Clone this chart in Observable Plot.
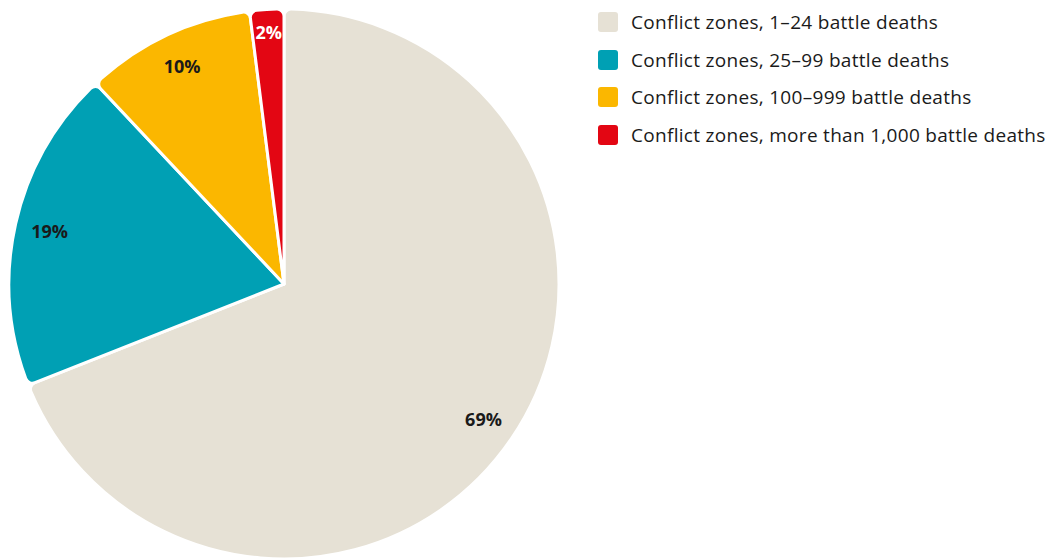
<!DOCTYPE html>
<html>
<head>
<meta charset="utf-8">
<script src="https://cdn.jsdelivr.net/npm/d3@7"></script>
<script src="https://cdn.jsdelivr.net/npm/@observablehq/plot@0.6"></script>
<style>
  html, body { margin: 0; padding: 0; background: #fff; }
  #wrap { position: relative; width: 1050px; height: 559px; font-family: "Open Sans", Lato, sans-serif; }
  #chart { position: absolute; left: 0; top: 0; }
  #legend { position: absolute; left: 598px; top: 12px; }
  .row { display: flex; align-items: center; height: 20px; margin-bottom: 17.7px; }
  .sw { width: 20px; height: 20px; border-radius: 3px; margin-right: 13px; flex: none; }
  .lab { font-size: 19px; letter-spacing: 0.3px; color: #1a1a1a; white-space: nowrap; }
</style>
</head>
<body>
<div id="wrap">
  <div id="chart"></div>
  <div id="legend"></div>
</div>
<script>
const categories = [
  "Conflict zones, 1–24 battle deaths",
  "Conflict zones, 25–99 battle deaths",
  "Conflict zones, 100–999 battle deaths",
  "Conflict zones, more than 1,000 battle deaths"
];
const values = [69, 19, 10, 2];
const labels = ["69%", "19%", "10%", "2%"];
const colors = ["#e6e1d5", "#00a0b4", "#fbb700", "#e30613"];
const labelColors = ["#1a1a1a", "#1a1a1a", "#1a1a1a", "#ffffff"];

// Build slice table (clockwise from 12 o'clock)
const total = d3.sum(values);
let acc = 0;
const slices = values.map((v, i) => {
  const a0 = acc / total * 2 * Math.PI;
  acc += v;
  const a1 = acc / total * 2 * Math.PI;
  const mid = (a0 + a1) / 2;
  const lr = v < 5 ? 0.915 : 0.875;
  return {
    category: categories[i], value: v, label: labels[i],
    color: colors[i], labelColor: labelColors[i],
    a0, a1, lx: lr * Math.sin(mid), ly: lr * Math.cos(mid)
  };
});

function pieMark(index, scales, values, dimensions, context) {
  const cx = scales.x(0), cy = scales.y(0);
  const r = scales.x(1) - scales.x(0);
  const arc = d3.arc().innerRadius(0).outerRadius(r).cornerRadius(7);
  const g = d3.create("svg:g").attr("transform", `translate(${cx},${cy})`);
  g.selectAll("path").data(slices).join("path")
    .attr("d", d => arc({startAngle: d.a0, endAngle: d.a1}))
    .attr("fill", d => d.color)
    .attr("stroke", "#fff")
    .attr("stroke-width", 3)
    .attr("stroke-linejoin", "round");
  return g.node();
}

const plot = Plot.plot({
  width: 570,
  height: 559,
  margin: 0,
  x: {domain: [-1, 1], range: [9, 559], axis: null},
  y: {domain: [-1, 1], range: [559, 9], axis: null},
  style: {fontFamily: "'Open Sans', Lato, sans-serif", background: "transparent"},
  marks: [
    pieMark,
    Plot.text(slices, {
      x: "lx", y: "ly", text: "label",
      fill: d => d.labelColor,
      fontSize: 18, fontWeight: "bold"
    })
  ]
});
document.getElementById("chart").appendChild(plot);

const legend = d3.select("#legend");
categories.forEach((c, i) => {
  const row = legend.append("div").attr("class", "row");
  row.append("div").attr("class", "sw").style("background", colors[i]);
  row.append("div").attr("class", "lab").text(c);
});
</script>
</body>
</html>
